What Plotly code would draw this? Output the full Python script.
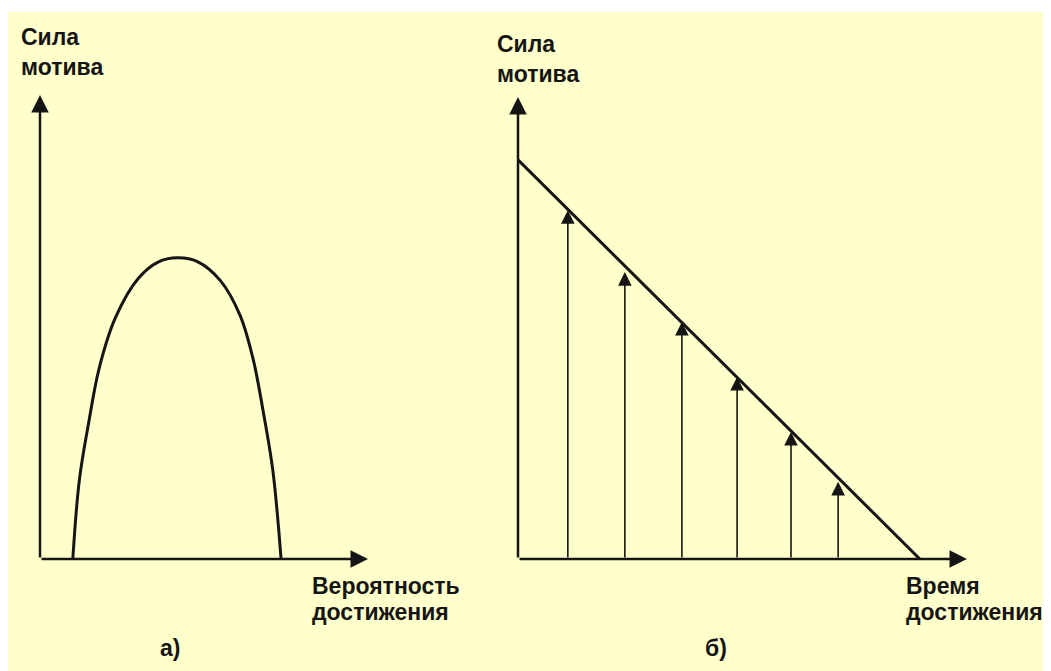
import plotly.graph_objects as go

W, H = 1051, 671
OFF = 8  # default page body margin of the html page

# ---- data: panel a) motive strength vs probability of achievement ----
prob = [0.10, 0.12, 0.15, 0.18, 0.23, 0.30, 0.36, 0.42, 0.48, 0.55, 0.61, 0.65, 0.68, 0.71, 0.735]
strength_a = [0.00, 0.17, 0.30, 0.41, 0.52, 0.605, 0.64, 0.649, 0.641, 0.60, 0.525, 0.43, 0.32, 0.19, 0.00]

# ---- data: panel б) motive strength vs time of achievement ----
time_line = [0.0, 8.95]
strength_line = [8.64, 0.0]
arrow_times = [1.11, 2.38, 3.65, 4.88, 6.08, 7.13]
arrow_strengths = [7.55, 6.21, 5.13, 3.94, 2.75, 1.67]

# ---- labels ----
y_label = ["Сила", "мотива"]
x_label_a = ["Вероятность", "достижения"]
x_label_b = ["Время", "достижения"]
panel_labels = ["а)", "б)"]

INK = "#151515"
BG = "#FFFFCC"
FONT = "Liberation Sans, Arial, sans-serif"
FS = 23

fig = go.Figure()

fig.add_trace(go.Scatter(x=prob, y=strength_a, mode="lines", line=dict(color=INK, width=3, shape="spline", smoothing=1.0),
                         xaxis="x", yaxis="y", hoverinfo="skip", showlegend=False))
fig.add_trace(go.Scatter(x=time_line, y=strength_line, mode="lines", line=dict(color=INK, width=3),
                         xaxis="x2", yaxis="y2", hoverinfo="skip", showlegend=False))

def px_x(p):
    return (p - OFF) / W

def px_y(p):
    return (H - (p - OFF)) / H

annotations = []

# axes drawn as arrows
for (xr, yr, xmax, ymax) in [("x", "y", 1.0, 1.0), ("x2", "y2", 10.0, 10.0)]:
    annotations.append(dict(x=xmax, y=0, ax=0, ay=0, xref=xr, yref=yr, axref=xr, ayref=yr,
                            showarrow=True, arrowhead=2, arrowsize=1.4, arrowwidth=2.5, arrowcolor=INK, text=""))
    annotations.append(dict(x=0, y=ymax, ax=0, ay=0, xref=xr, yref=yr, axref=xr, ayref=yr,
                            showarrow=True, arrowhead=2, arrowsize=1.4, arrowwidth=2.5, arrowcolor=INK, text=""))

# vertical arrows panel b
for t, s in zip(arrow_times, arrow_strengths):
    annotations.append(dict(x=t, y=s, ax=t, ay=0, xref="x2", yref="y2", axref="x2", ayref="y2",
                            showarrow=True, arrowhead=2, arrowsize=1.7, arrowwidth=1.6, arrowcolor=INK, text=""))

def label(text, left, baseline):
    annotations.append(dict(text="<b>" + text + "</b>", x=px_x(left), y=px_y(baseline - 0.35 * FS),
                            xref="paper", yref="paper", xanchor="left", yanchor="middle", showarrow=False,
                            font=dict(family=FONT, size=FS, color=INK), borderpad=0))

label(y_label[0], 20, 45)
label(y_label[1], 20, 75)
label(y_label[0], 496, 52)
label(y_label[1], 496, 82)
label(x_label_a[0], 311, 594)
label(x_label_a[1], 311, 620)
label(x_label_b[0], 905, 594)
label(x_label_b[1], 905, 620)
label(panel_labels[0], 159, 656)
label(panel_labels[1], 704, 656)

hidden = dict(visible=False, showgrid=False, zeroline=False, fixedrange=True)

fig.update_layout(
    width=W, height=H,
    margin=dict(l=0, r=0, t=0, b=0),
    paper_bgcolor="white",
    plot_bgcolor="rgba(0,0,0,0)",
    showlegend=False,
    xaxis=dict(domain=[px_x(40), px_x(368)], range=[0, 1.0], anchor="y", **hidden),
    yaxis=dict(domain=[px_y(559), px_y(95)], range=[0, 1.0], anchor="x", **hidden),
    xaxis2=dict(domain=[px_x(518), px_x(967)], range=[0, 10.0], anchor="y2", **hidden),
    yaxis2=dict(domain=[px_y(559), px_y(97)], range=[0, 10.0], anchor="x2", **hidden),
    shapes=[dict(type="rect", xref="paper", yref="paper", x0=0, x1=1, y0=0, y1=px_y(12),
                 fillcolor=BG, line=dict(width=0), layer="below")],
    annotations=annotations,
)

fig.write_html("out.html")
